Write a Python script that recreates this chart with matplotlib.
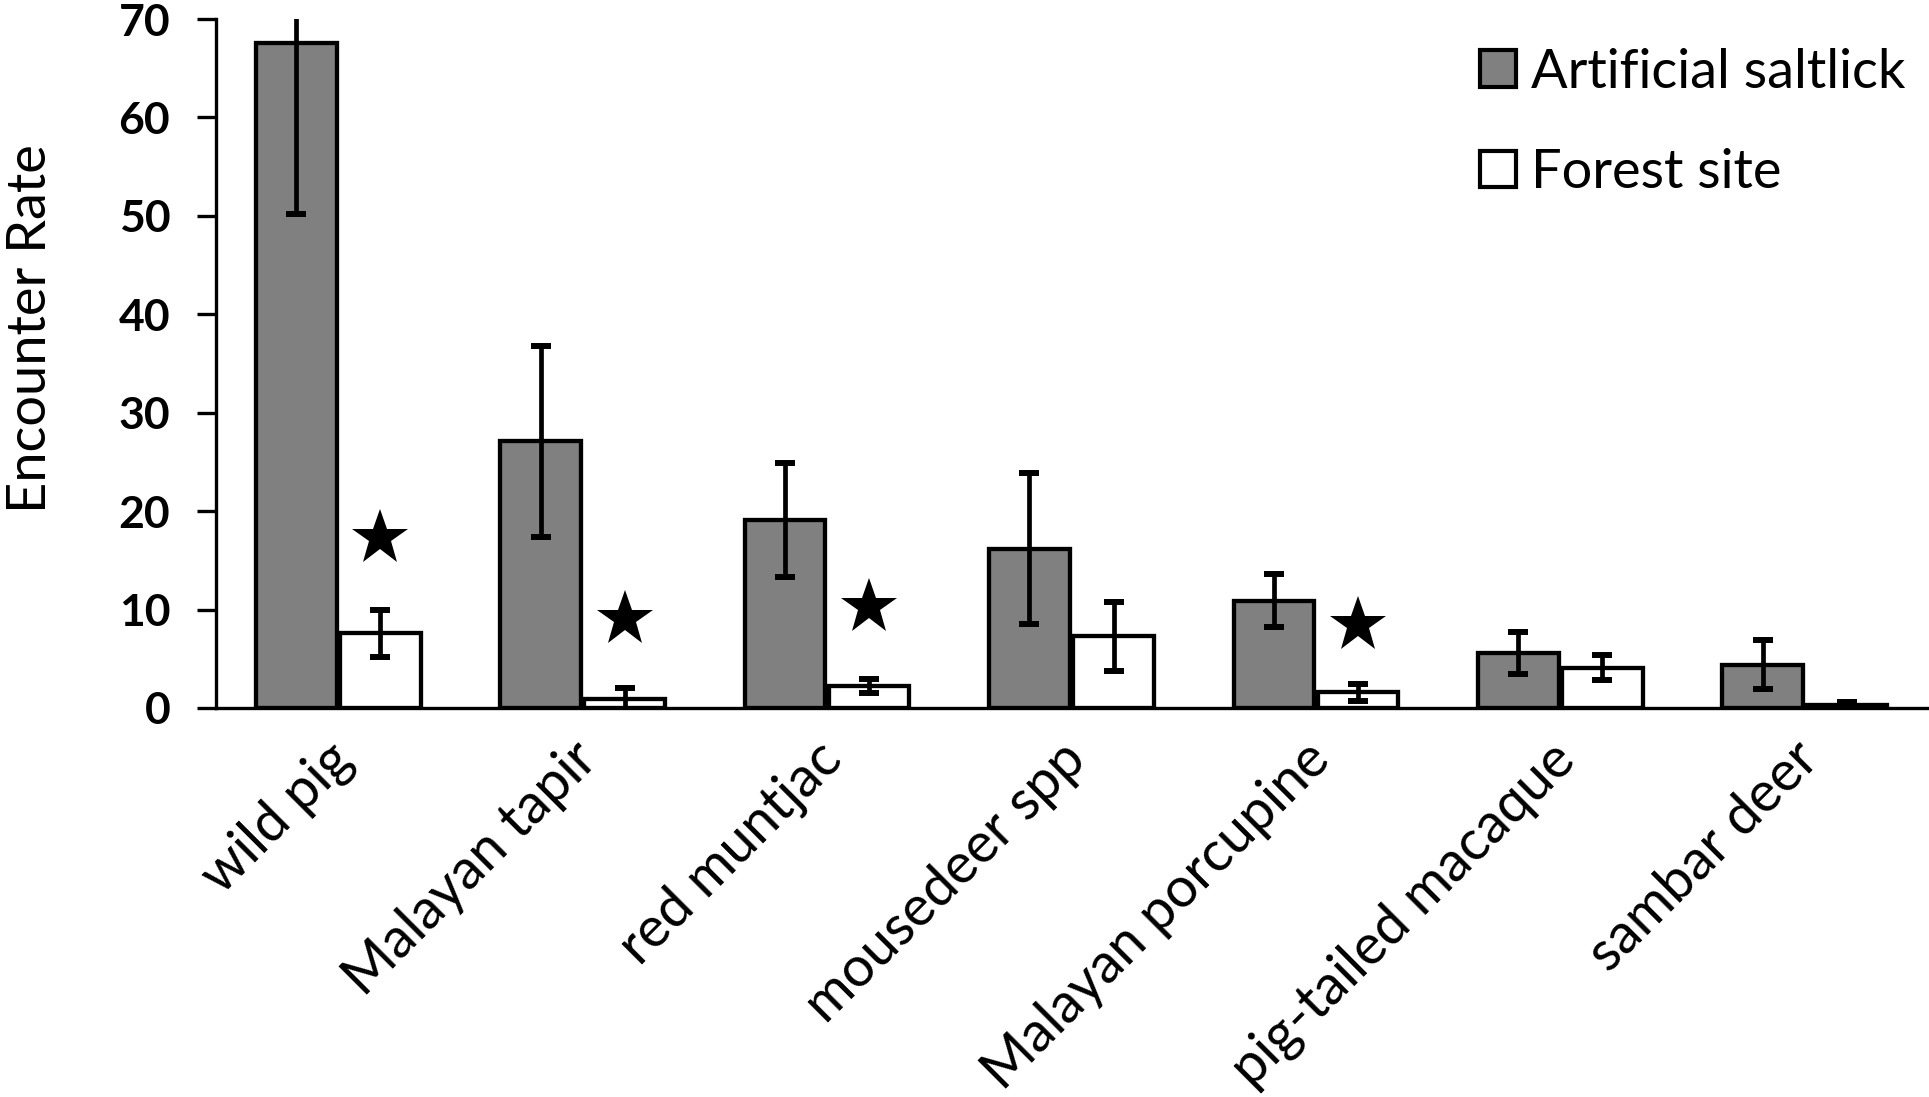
import matplotlib
matplotlib.use("Agg")
import matplotlib.pyplot as plt
from matplotlib.patches import Patch
from matplotlib.transforms import ScaledTranslation
import numpy as np

plt.rcParams['font.family'] = ['Lato', 'DejaVu Sans']

species = ["wild pig", "Malayan tapir", "red muntjac", "mousedeer spp",
           "Malayan porcupine", "pig-tailed macaque", "sambar deer"]
saltlick = [67.6, 27.1, 19.1, 16.2, 10.9, 5.6, 4.4]
saltlick_err = [17.4, 9.7, 5.8, 7.7, 2.7, 2.1, 2.5]
forest = [7.6, 0.9, 2.2, 7.3, 1.6, 4.1, 0.27]
forest_err = [2.4, 1.1, 0.7, 3.5, 0.85, 1.3, 0.3]
significant = [True, True, True, False, True, False, False]
star_y = [17.3, 9.0, 10.3, None, 8.4, None, None]

fig = plt.figure(figsize=(19.29, 10.97), dpi=100)
ax = fig.add_axes([216/1929, 1 - 708/1097, (1927-216)/1929, (708-19)/1097])

x = np.arange(len(species))
w = 0.33
off = 0.172
ekw = dict(elinewidth=3.4, capthick=4.3, capsize=7)
ax.bar(x - off, saltlick, w, color="#808080", edgecolor="black", linewidth=3.1, zorder=2)
ax.bar(x + off, forest, w, color="white", edgecolor="black", linewidth=3.1, zorder=2)
ax.errorbar(x - off, saltlick, yerr=saltlick_err, fmt="none", ecolor="black", zorder=3, **ekw)
ax.errorbar(x + off, forest, yerr=forest_err, fmt="none", ecolor="black", zorder=3, **ekw)

for i, s in enumerate(significant):
    if s:
        ax.plot(x[i] + off, star_y[i], marker="*", markersize=42, color="black",
                markeredgewidth=0, zorder=4)

ax.set_xlim(-0.5, len(species) - 0.5)
ax.set_ylim(0, 70)
ax.set_yticks(range(0, 71, 10))
ax.tick_params(axis="y", labelsize=32, width=2.4, length=14, direction="out", pad=19)
for lab in ax.get_yticklabels():
    lab.set_fontweight("bold")
ax.set_xticks(x)
ax.set_xticklabels(species, rotation=45, ha="right", rotation_mode="anchor", fontsize=40)
ax.tick_params(axis="x", length=0, pad=18)
shift = ScaledTranslation(-12/100, 0, fig.dpi_scale_trans)
for lab in ax.get_xticklabels():
    lab.set_transform(lab.get_transform() + shift)
ax.set_ylabel("Encounter Rate", fontsize=39, va="center")
ax.yaxis.set_label_coords(-0.1085, 0.55)

for side in ["top", "right"]:
    ax.spines[side].set_visible(False)
ax.spines["left"].set_linewidth(2.4)
ax.spines["bottom"].set_linewidth(2.4)

handles = [Patch(facecolor="#808080", edgecolor="black", linewidth=3.0, label="Artificial saltlick"),
           Patch(facecolor="white", edgecolor="black", linewidth=3.0, label="Forest site")]
ax.legend(handles=handles, loc="upper right", bbox_to_anchor=(1.0, 0.99), frameon=False,
          fontsize=39, handlelength=0.66, handleheight=0.66, handletextpad=0.28,
          labelspacing=0.95, borderaxespad=0.0)

fig.savefig("out.png", dpi=100)
